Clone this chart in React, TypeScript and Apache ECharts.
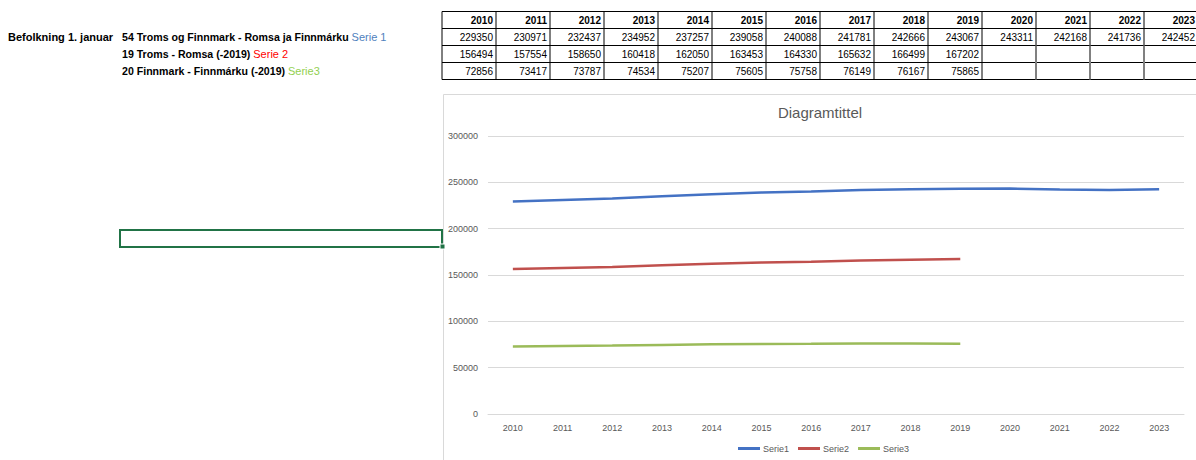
import React, { useEffect, useRef } from "react";
import * as echarts from "echarts";

const years = ["2010", "2011", "2012", "2013", "2014", "2015", "2016", "2017", "2018", "2019", "2020", "2021", "2022", "2023"];
const serie1 = [229350, 230971, 232437, 234952, 237257, 239058, 240088, 241781, 242666, 243067, 243311, 242168, 241736, 242452];
const serie2 = [156494, 157554, 158650, 160418, 162050, 163453, 164330, 165632, 166499, 167202];
const serie3 = [72856, 73417, 73787, 74534, 75207, 75605, 75758, 76149, 76167, 75865];
const seriesNames = ["Serie1", "Serie2", "Serie3"];
const rowTitle = "Befolkning 1. januar";
const rowLabels = ["54 Troms og Finnmark - Romsa ja Finnmárku", "19 Troms - Romsa (-2019)", "20 Finnmark - Finnmárku (-2019)"];
const rowTags = ["Serie 1", "Serie 2", "Serie3"];
const chartTitle = "Diagramtittel";

const FONT = "Liberation Sans";

export default function App() {
  const ref = useRef<HTMLDivElement>(null);
  useEffect(() => {
    if (!ref.current) return;
    const chart = echarts.init(ref.current, undefined, { renderer: "svg" });

    const tableX = 442;
    const tableY = 11.5;
    const colW = 54;
    const rowH = 17;
    const nCols = years.length;
    const tableRight = tableX + nCols * colW;
    const rows = [serie1, serie2, serie3];
    const elements: any[] = [];

    // table texts
    years.forEach((y, i) => {
      elements.push({
        type: "text",
        x: tableX + (i + 1) * colW - 3,
        y: tableY + rowH / 2,
        style: { text: y, align: "right", verticalAlign: "middle", textAlign: "right", textVerticalAlign: "middle", fontSize: 10, fontWeight: "bold", fontFamily: FONT, fill: "#000" },
      });
    });
    rows.forEach((arr, r) => {
      arr.forEach((v, i) => {
        elements.push({
          type: "text",
          x: tableX + (i + 1) * colW - 3,
          y: tableY + rowH * (r + 1) + rowH / 2,
          style: { text: String(v), align: "right", verticalAlign: "middle", textAlign: "right", textVerticalAlign: "middle", fontSize: 10, fontFamily: FONT, fill: "#000" },
        });
      });
    });
    // table lines
    for (let r = 0; r <= 4; r++) {
      elements.push({
        type: "line",
        shape: { x1: tableX, y1: tableY + r * rowH, x2: tableRight, y2: tableY + r * rowH },
        style: { stroke: "#000", lineWidth: 1 },
      });
    }
    for (let c = 0; c <= nCols; c++) {
      const x = tableX + c * colW;
      const gray = c > 10;
      elements.push({
        type: "line",
        shape: { x1: x, y1: tableY, x2: x, y2: tableY + (gray ? 2 : 4) * rowH },
        style: { stroke: "#000", lineWidth: 1 },
      });
      if (gray) {
        elements.push({
          type: "line",
          shape: { x1: x, y1: tableY + 2 * rowH, x2: x, y2: tableY + 4 * rowH },
          style: { stroke: "#808080", lineWidth: 2 },
        });
      }
    }

    // left labels
    elements.push({
      type: "text",
      x: 8,
      y: tableY + rowH * 1.5,
      style: { text: rowTitle, verticalAlign: "middle", textVerticalAlign: "middle", fontSize: 11, fontWeight: "bold", fontFamily: FONT, fill: "#000" },
    });
    const tagColors = ["#4F81BD", "#FF0000", "#92D050"];
    rowLabels.forEach((lbl, i) => {
      elements.push({
        type: "text",
        x: 122,
        y: tableY + rowH * (i + 1.5),
        style: {
          text: `{b|${lbl} }{t${i}|${rowTags[i]}}`,
          verticalAlign: "middle",
          textVerticalAlign: "middle",
          fontSize: 10.6,
          fontFamily: FONT,
          rich: {
            b: { fontSize: 10.6, fontWeight: "bold", fontFamily: FONT, fill: "#000", color: "#000" },
            t0: { fontSize: 11, fontFamily: FONT, fill: tagColors[0], color: tagColors[0] },
            t1: { fontSize: 11, fontFamily: FONT, fill: tagColors[1], color: tagColors[1] },
            t2: { fontSize: 11, fontFamily: FONT, fill: tagColors[2], color: tagColors[2] },
          },
        },
      });
    });

    // chart border
    elements.push({
      type: "rect",
      shape: { x: 443.5, y: 94.5, width: 900, height: 500 },
      style: { fill: "none", stroke: "#D9D9D9", lineWidth: 1 },
      z: -10,
    });
    // selected cell
    elements.push({
      type: "rect",
      shape: { x: 120, y: 230, width: 322, height: 17 },
      style: { fill: "none", stroke: "#217346", lineWidth: 2 },
    });
    elements.push({
      type: "rect",
      shape: { x: 440, y: 244, width: 5, height: 5 },
      style: { fill: "#217346", stroke: "#fff", lineWidth: 1 },
    });

    const lineColors = ["#4472C4", "#C0504D", "#9BBB59"];
    chart.setOption({
      animation: false,
      title: {
        text: chartTitle,
        left: 820,
        top: 105,
        padding: 0,
        textAlign: "center",
        textStyle: { fontSize: 15, fontWeight: "normal", color: "#595959", fontFamily: FONT },
      },
      grid: { left: 488, right: 12, top: 136, bottom: 46 },
      legend: {
        left: 733,
        top: 439,
        icon: "rect",
        itemWidth: 22,
        itemHeight: 3,
        itemGap: 9,
        textStyle: { fontSize: 9, color: "#595959", fontFamily: FONT, padding: [0, 0, 0, -2] },
        data: seriesNames,
      },
      xAxis: {
        type: "category",
        data: years,
        boundaryGap: true,
        axisLine: { lineStyle: { color: "#D9D9D9" } },
        axisTick: { show: false },
        axisLabel: { fontSize: 9, color: "#595959", fontFamily: FONT, margin: 9 },
      },
      yAxis: {
        type: "value",
        min: 0,
        max: 300000,
        interval: 50000,
        axisLine: { show: false },
        axisTick: { show: false },
        splitLine: { lineStyle: { color: "#D9D9D9" } },
        axisLabel: { fontSize: 9, color: "#595959", fontFamily: FONT, margin: 10, formatter: (v: number) => String(v) },
      },
      series: [serie1, serie2, serie3].map((d, i) => ({
        name: seriesNames[i],
        type: "line",
        data: d,
        symbol: "none",
        showSymbol: false,
        lineStyle: { color: lineColors[i], width: 2.5 },
        itemStyle: { color: lineColors[i] },
      })),
      graphic: { elements },
    });
    return () => chart.dispose();
  }, []);
  return <div ref={ref} style={{ position: "fixed", left: 0, top: 0, width: 1196, height: 460, background: "#fff" }} />;
}
